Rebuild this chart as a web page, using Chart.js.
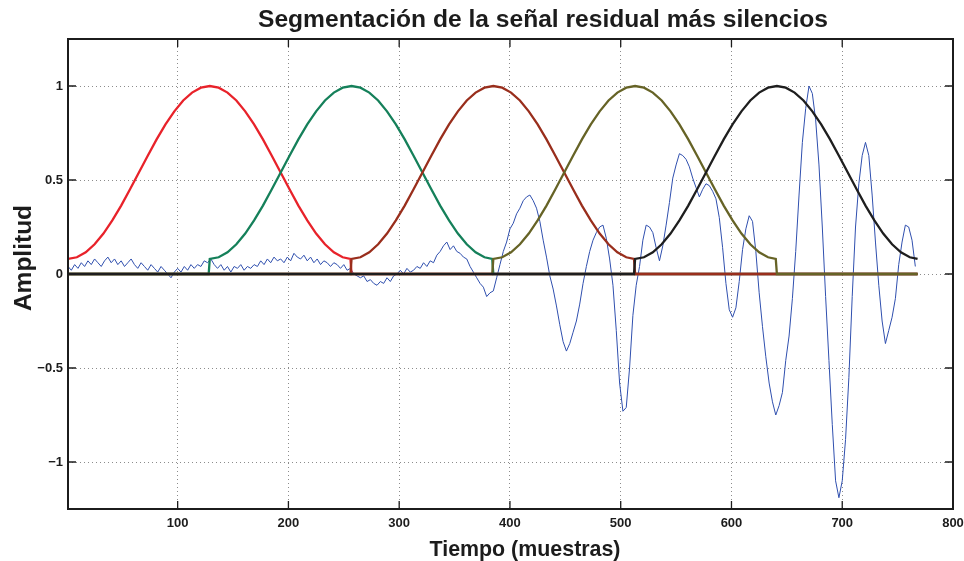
<!DOCTYPE html>
<html lang="es">
<head>
<meta charset="utf-8">
<title>Segmentación de la señal residual más silencios</title>
<script src="https://cdn.jsdelivr.net/npm/chart.js@4.4.1/dist/chart.umd.min.js"></script>
<style>
  html, body { margin: 0; padding: 0; background: #fff; }
  canvas { display: block; }
</style>
</head>
<body>
<canvas id="segmentacion" width="964" height="561"></canvas>
<script>
// señal residual: un valor cada 3 muestras, desde la muestra 1
const pasoResiduo = 3;
const residuo = [
  0.04, 0.02, 0.05, 0.03, 0.06, 0.04, 0.07, 0.05, 0.08, 0.06,
  0.04, 0.07, 0.09, 0.06, 0.08, 0.05, 0.07, 0.04, 0.06, 0.08,
  0.05, 0.03, 0.06, 0.04, 0.02, 0.05, 0.03, 0.01, 0.04, 0.02,
  0.00, -0.02, 0.01, 0.03, 0.01, 0.04, 0.02, 0.05, 0.03, 0.05,
  0.04, 0.07, 0.06, 0.08, 0.05, 0.03, 0.05, 0.02, 0.04, 0.01,
  0.04, 0.03, 0.05, 0.02, 0.04, 0.03, 0.05, 0.04, 0.07, 0.05,
  0.08, 0.06, 0.09, 0.07, 0.08, 0.06, 0.09, 0.07, 0.11, 0.09,
  0.08, 0.10, 0.07, 0.09, 0.06, 0.08, 0.05, 0.07, 0.06, 0.04,
  0.06, 0.05, 0.03, 0.05, 0.02, 0.03, 0.00, -0.01, -0.02, -0.01,
  -0.04, -0.03, -0.05, -0.06, -0.04, -0.05, -0.02, -0.04, -0.01, 0.00,
  0.02, 0.00, 0.03, 0.01, 0.02, 0.04, 0.03, 0.06, 0.04, 0.07,
  0.06, 0.10, 0.12, 0.15, 0.17, 0.13, 0.15, 0.12, 0.11, 0.09,
  0.08, 0.04, 0.01, -0.02, -0.05, -0.07, -0.12, -0.10, -0.09, -0.02,
  0.05, 0.12, 0.17, 0.24, 0.27, 0.32, 0.35, 0.39, 0.41, 0.42,
  0.39, 0.35, 0.28, 0.18, 0.09, -0.01, -0.08, -0.17, -0.27, -0.36,
  -0.41, -0.37, -0.31, -0.25, -0.16, -0.05, 0.04, 0.12, 0.18, 0.22,
  0.25, 0.26, 0.19, 0.08, -0.06, -0.30, -0.58, -0.73, -0.71, -0.50,
  -0.22, -0.06, 0.04, 0.18, 0.26, 0.25, 0.22, 0.14, 0.07, 0.15,
  0.26, 0.38, 0.51, 0.58, 0.64, 0.63, 0.61, 0.57, 0.51, 0.46,
  0.41, 0.45, 0.48, 0.47, 0.44, 0.40, 0.30, 0.14, -0.05, -0.19,
  -0.23, -0.18, -0.04, 0.13, 0.24, 0.31, 0.28, 0.12, -0.10, -0.28,
  -0.44, -0.58, -0.68, -0.75, -0.70, -0.63, -0.46, -0.33, -0.13, 0.12,
  0.42, 0.70, 0.88, 1.00, 0.96, 0.82, 0.58, 0.25, -0.12, -0.46,
  -0.80, -1.10, -1.19, -1.10, -0.88, -0.55, -0.12, 0.25, 0.48, 0.63,
  0.70, 0.63, 0.42, 0.17, -0.06, -0.25, -0.37, -0.30, -0.23, -0.13,
  0.05, 0.17, 0.26, 0.25, 0.18, 0.04
];

const posVentana = [
  0, 8, 16, 24, 32, 40, 48, 56, 64, 72, 80, 88, 96, 104, 112, 120, 128,
  136, 144, 152, 160, 168, 176, 184, 192, 200, 208, 216, 224, 232, 240, 248, 255
];
const valVentana = [
  0.080, 0.089, 0.115, 0.158, 0.215, 0.285, 0.364, 0.451, 0.540, 0.629, 0.716,
  0.796, 0.865, 0.923, 0.965, 0.991, 1.000, 0.991, 0.965, 0.923, 0.865, 0.796,
  0.716, 0.629, 0.540, 0.451, 0.364, 0.285, 0.215, 0.158, 0.115, 0.089, 0.080
];
// cada segmento empieza 128 muestras después del anterior
const iniciosVentana = [0, 128, 256, 384, 512];
const totalMuestras = 768;

const ticksX = [100, 200, 300, 400, 500, 600, 700, 800];
const ticksY = [-1, -0.5, 0, 0.5, 1];

const coloresVentana = ['#e8222a', '#15805a', '#992e1c', '#666326', '#1e1e1e'];
const fuente = '"Liberation Sans", Arial, Helvetica, sans-serif';
const tinta = '#1c1c1c';

function segmento(inicio) {
  const pts = [];
  if (inicio > 0) pts.push({ x: 1, y: 0 }, { x: inicio, y: 0 });
  posVentana.forEach((p, i) => pts.push({ x: inicio + 1 + p, y: valVentana[i] }));
  const fin = inicio + 256;
  if (fin < totalMuestras) pts.push({ x: fin + 1, y: 0 }, { x: totalMuestras, y: 0 });
  return pts;
}

const datasets = [{
  data: residuo.map((v, i) => ({ x: 1 + i * pasoResiduo, y: v })),
  borderColor: '#2f4fae',
  borderWidth: 1,
  order: 10
}];
iniciosVentana.forEach((ini, k) => {
  datasets.push({
    data: segmento(ini),
    borderColor: coloresVentana[k],
    borderWidth: 2.3,
    order: 5 - k
  });
});

// caja con marcas hacia dentro, título y etiquetas de los ejes
const marco = {
  id: 'marco',
  afterDraw(chart) {
    const { ctx, chartArea: a, scales: { x, y } } = chart;
    ctx.save();
    ctx.strokeStyle = tinta;
    ctx.lineWidth = 1.3;
    ctx.beginPath();
    ticksX.forEach(v => {
      const px = x.getPixelForValue(v);
      ctx.moveTo(px, a.bottom); ctx.lineTo(px, a.bottom - 8);
      ctx.moveTo(px, a.top); ctx.lineTo(px, a.top + 8);
    });
    ticksY.forEach(v => {
      const py = y.getPixelForValue(v);
      ctx.moveTo(a.left, py); ctx.lineTo(a.left + 8, py);
      ctx.moveTo(a.right, py); ctx.lineTo(a.right - 8, py);
    });
    ctx.stroke();
    ctx.lineWidth = 2;
    ctx.strokeRect(a.left, a.top, a.right - a.left, a.bottom - a.top);

    ctx.fillStyle = tinta;
    ctx.textAlign = 'center';
    ctx.textBaseline = 'alphabetic';
    ctx.font = 'bold 24.6px ' + fuente;
    ctx.fillText('Segmentación de la señal residual más silencios', 543, 27);
    ctx.font = 'bold 21.4px ' + fuente;
    ctx.fillText('Tiempo (muestras)', 525, 556);
    ctx.translate(31, 258);
    ctx.rotate(-Math.PI / 2);
    ctx.font = 'bold 24.5px ' + fuente;
    ctx.fillText('Amplitud', 0, 0);
    ctx.restore();
  }
};

new Chart(document.getElementById('segmentacion'), {
  type: 'line',
  data: { datasets },
  options: {
    responsive: false,
    animation: false,
    events: [],
    layout: { padding: { top: 39, right: 11, left: 0, bottom: 0 } },
    elements: { point: { radius: 0 }, line: { tension: 0 } },
    plugins: { legend: { display: false }, tooltip: { enabled: false } },
    scales: {
      x: {
        type: 'linear',
        min: 1,
        max: 800,
        afterFit: s => { s.height = 52; s.paddingLeft = 0; s.paddingRight = 0; },
        afterBuildTicks: s => { s.ticks = ticksX.map(v => ({ value: v })); },
        grid: { color: 'rgba(0,0,0,0.45)', lineWidth: 1, drawTicks: false },
        border: { display: false, dash: [1, 3] },
        ticks: {
          padding: 7,
          color: tinta,
          font: { family: fuente, size: 13, weight: 'bold' },
          maxRotation: 0
        }
      },
      y: {
        min: -1.25,
        max: 1.25,
        afterFit: s => { s.width = 68; s.paddingTop = 0; s.paddingBottom = 0; },
        afterBuildTicks: s => { s.ticks = ticksY.map(v => ({ value: v })); },
        grid: { color: 'rgba(0,0,0,0.45)', lineWidth: 1, drawTicks: false },
        border: { display: false, dash: [1, 3] },
        ticks: {
          padding: 5,
          color: tinta,
          font: { family: fuente, size: 13, weight: 'bold' },
          callback: v => String(v).replace('-', '\u2212')
        }
      }
    }
  },
  plugins: [marco]
});
</script>
</body>
</html>
